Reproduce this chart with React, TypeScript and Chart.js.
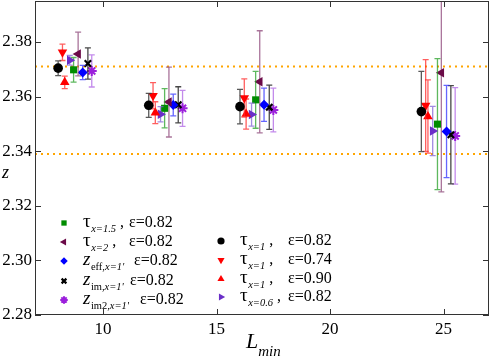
import React, { useEffect, useRef } from 'react';
import { Chart, registerables } from 'chart.js';
import { drawPoint } from 'chart.js/helpers';

Chart.register(...registerables);

const FONT = '"Liberation Serif", "Times New Roman", "DejaVu Serif", serif';

// ---- axes ----
const xMin = 7;
const xMax = 27;
const yMin = 2.28;
const yMax = 2.395;
const xTickValues = [10, 15, 20, 25];
const yTickValues = [2.28, 2.3, 2.32, 2.34, 2.36, 2.38];
const refLineValues = [2.371, 2.339];

// ---- series data (L_min positions, z values, error half-widths) ----
const tau1e082X = [8.02, 12.01, 16.03, 24.02];
const tau1e082Y = [2.3704, 2.3568, 2.3563, 2.3545];
const tau1e082Err = [0.0027, 0.0044, 0.0063, 0.0147];

const tau1e074X = [8.21, 12.2, 16.22, 24.21];
const tau1e074Y = [2.3762, 2.3603, 2.3595, 2.3567];
const tau1e074Err = [0.003, 0.0048, 0.007, 0.0168];

const tau1e090X = [8.31, 12.3, 16.3, 24.31];
const tau1e090Y = [2.3652, 2.3541, 2.3536, 2.3527];
const tau1e090Err = [0.0023, 0.004, 0.0055, 0.0134];

const tau06X = [8.53, 12.53, 16.54, 24.52];
const tau06Y = [2.3733, 2.3535, 2.3534, 2.3474];
const tau06Err = [0.0018, 0.0028, 0.0042, 0.009];

const tau15X = [8.7, 12.71, 16.72, 24.73];
const tau15Y = [2.3698, 2.3557, 2.3588, 2.3499];
const tau15Err = [0.0045, 0.0072, 0.0104, 0.024];

const tau2X = [8.9, 12.9, 16.9, 24.9];
const tau2Y = [2.3756, 2.358, 2.3654, 2.3687];
const tau2Err = [0.008, 0.0128, 0.0187, 0.0436];

const zeffX = [9.1, 13.09, 17.09, 25.13];
const zeffY = [2.3688, 2.3569, 2.357, 2.3472];
const zeffErr = [0.0026, 0.004, 0.0061, 0.0169];

const zimX = [9.33, 13.31, 17.32, 25.32];
const zimY = [2.3721, 2.357, 2.3561, 2.346];
const zimErr = [0.0057, 0.0066, 0.0081, 0.018];

const zim2X = [9.5, 13.5, 17.5, 25.51];
const zim2Y = [2.3694, 2.3557, 2.3551, 2.3456];
const zim2Err = [0.0059, 0.0066, 0.008, 0.0177];

type Sub = [string, boolean];
interface SeriesDef {
  xs: number[]; ys: number[]; errs: number[];
  style: string; rotation: number; radius: number; lwidth: number;
  color: string; errColor: string;
  main: string; mainItalic: boolean; subs: Sub[]; comma: boolean; eps: string;
  col: number; row: number;
}

const series: SeriesDef[] = [
  { xs: tau1e082X, ys: tau1e082Y, errs: tau1e082Err, style: 'circle', rotation: 0, radius: 4.8, lwidth: 0,
    color: '#000000', errColor: 'rgba(60,60,60,0.85)', main: 'τ', mainItalic: false, subs: [['x=1', true]], comma: true, eps: 'ε=0.82', col: 1, row: 0 },
  { xs: tau1e074X, ys: tau1e074Y, errs: tau1e074Err, style: 'triangle', rotation: 180, radius: 5.5, lwidth: 0,
    color: '#ff0000', errColor: 'rgba(255,40,40,0.75)', main: 'τ', mainItalic: false, subs: [['x=1', true]], comma: true, eps: 'ε=0.74', col: 1, row: 1 },
  { xs: tau1e090X, ys: tau1e090Y, errs: tau1e090Err, style: 'triangle', rotation: 0, radius: 5.5, lwidth: 0,
    color: '#ff0000', errColor: 'rgba(255,40,40,0.75)', main: 'τ', mainItalic: false, subs: [['x=1', true]], comma: true, eps: 'ε=0.90', col: 1, row: 2 },
  { xs: tau06X, ys: tau06Y, errs: tau06Err, style: 'triangle', rotation: 90, radius: 5.5, lwidth: 0,
    color: '#6a2fc8', errColor: 'rgba(130,100,215,0.75)', main: 'τ', mainItalic: false, subs: [['x=0.6', true]], comma: true, eps: 'ε=0.82', col: 1, row: 3 },
  { xs: tau15X, ys: tau15Y, errs: tau15Err, style: 'rect', rotation: 0, radius: 5, lwidth: 0,
    color: '#008c00', errColor: 'rgba(40,160,40,0.75)', main: 'τ', mainItalic: false, subs: [['x=1.5', true]], comma: true, eps: 'ε=0.82', col: 0, row: 0 },
  { xs: tau2X, ys: tau2Y, errs: tau2Err, style: 'triangle', rotation: -90, radius: 5.5, lwidth: 0,
    color: '#6b0a48', errColor: 'rgba(140,70,120,0.75)', main: 'τ', mainItalic: false, subs: [['x=2', true]], comma: true, eps: 'ε=0.82', col: 0, row: 1 },
  { xs: zeffX, ys: zeffY, errs: zeffErr, style: 'rectRot', rotation: 0, radius: 5, lwidth: 0,
    color: '#0000ff', errColor: 'rgba(50,50,255,0.75)', main: 'z', mainItalic: true, subs: [['eff,', false], ["x=1'", true]], comma: false, eps: 'ε=0.82', col: 0, row: 2 },
  { xs: zimX, ys: zimY, errs: zimErr, style: 'crossRot', rotation: 0, radius: 4.5, lwidth: 2.2,
    color: '#000000', errColor: 'rgba(40,40,40,0.85)', main: 'z', mainItalic: true, subs: [['im,', false], ["x=1'", true]], comma: false, eps: 'ε=0.82', col: 0, row: 3 },
  { xs: zim2X, ys: zim2Y, errs: zim2Err, style: 'star', rotation: 0, radius: 5, lwidth: 2,
    color: '#9b1fdc', errColor: 'rgba(180,110,230,0.8)', main: 'z', mainItalic: true, subs: [['im2,', false], ["x=1'", true]], comma: false, eps: 'ε=0.82', col: 0, row: 4 },
];

// legend layout
const legendMarkerX = [64, 221];
const legendTextX = [83, 240];
const legendRowsY = [[223, 242, 261, 281, 300], [241, 260, 279, 297]];
const legendEpsX = [[129, 129, 134, 130, 140], [288, 288, 288, 288]];

const errorBarPlugin = {
  id: 'errorBars',
  beforeDatasetDraw(chart: any, args: any) {
    const ds = chart.data.datasets[args.index];
    if (!ds.errs) return;
    const ctx = chart.ctx;
    const ys = chart.scales.y;
    const area = chart.chartArea;
    ctx.save();
    ctx.beginPath();
    ctx.rect(area.left, area.top, area.right - area.left, area.bottom - area.top);
    ctx.clip();
    ctx.strokeStyle = ds.errColor;
    ctx.lineWidth = 1.3;
    args.meta.data.forEach((el: any, i: number) => {
      const v = ds.data[i].y;
      const e = ds.errs[i];
      const top = ys.getPixelForValue(v + e);
      const bot = ys.getPixelForValue(v - e);
      const x = el.x;
      ctx.beginPath();
      ctx.moveTo(x, top);
      ctx.lineTo(x, bot);
      ctx.moveTo(x - 3, top);
      ctx.lineTo(x + 3, top);
      ctx.moveTo(x - 3, bot);
      ctx.lineTo(x + 3, bot);
      ctx.stroke();
    });
    ctx.restore();
  },
};

const framePlugin = {
  id: 'frame',
  afterDraw(chart: any) {
    const ctx = chart.ctx;
    const a = chart.chartArea;
    const xs = chart.scales.x;
    const ys = chart.scales.y;
    ctx.save();
    ctx.strokeStyle = '#333333';
    ctx.lineWidth = 1;
    ctx.strokeRect(a.left + 0.5, a.top + 0.5, a.right - a.left - 1, a.bottom - a.top - 1);
    const tl = 6;
    ctx.beginPath();
    xTickValues.forEach((v) => {
      const px = Math.round(xs.getPixelForValue(v)) + 0.5;
      ctx.moveTo(px, a.bottom);
      ctx.lineTo(px, a.bottom - tl);
      ctx.moveTo(px, a.top);
      ctx.lineTo(px, a.top + tl);
    });
    yTickValues.forEach((v) => {
      const py = Math.round(ys.getPixelForValue(v)) + 0.5;
      ctx.moveTo(a.left, py);
      ctx.lineTo(a.left + tl, py);
      ctx.moveTo(a.right, py);
      ctx.lineTo(a.right - tl, py);
    });
    ctx.stroke();

    // legend
    ctx.textAlign = 'left';
    ctx.textBaseline = 'alphabetic';
    series.forEach((s) => {
      const my = legendRowsY[s.col][s.row];
      const mx = legendMarkerX[s.col];
      ctx.fillStyle = s.color;
      ctx.strokeStyle = s.color;
      ctx.lineWidth = s.lwidth || 1;
      drawPoint(ctx, { pointStyle: s.style, rotation: s.rotation, radius: s.radius * 0.75, borderWidth: s.lwidth }, mx, my);
      ctx.fillStyle = '#000';
      let x = legendTextX[s.col];
      const base = my + 4;
      ctx.font = `${s.mainItalic ? 'italic ' : ''}19px ${FONT}`;
      ctx.fillText(s.main, x, base);
      x += ctx.measureText(s.main).width + 0.5;
      s.subs.forEach(([t, it]) => {
        ctx.font = `${it ? 'italic ' : ''}10.5px ${FONT}`;
        ctx.fillText(t, x, base + 5);
        x += ctx.measureText(t).width;
      });
      ctx.font = `16px ${FONT}`;
      if (s.comma) ctx.fillText(' ,', x, base);
      ctx.fillText(s.eps, legendEpsX[s.col][s.row], base);
    });

    // axis titles
    ctx.fillStyle = '#000';
    ctx.font = `italic 22px ${FONT}`;
    ctx.fillText('L', 246, 348);
    const lw = ctx.measureText('L').width;
    ctx.font = `italic 15px ${FONT}`;
    ctx.fillText('min', 246 + lw, 356);
    ctx.font = `italic 18px ${FONT}`;
    ctx.fillText('z', 2, 178);
    ctx.restore();
  },
};

const zeroPad = (s: any) => {
  s.paddingLeft = 0;
  s.paddingRight = 0;
  s.paddingTop = 0;
  s.paddingBottom = 0;
};

export default function App() {
  const ref = useRef<HTMLCanvasElement>(null);
  useEffect(() => {
    document.body.style.margin = '0';
    const datasets: any[] = series.map((s) => ({
      data: s.xs.map((x, i) => ({ x, y: s.ys[i] })),
      errs: s.errs,
      errColor: s.errColor,
      pointStyle: s.style,
      rotation: s.rotation,
      pointRadius: s.radius,
      backgroundColor: s.color,
      borderColor: s.color,
      borderWidth: s.lwidth,
      showLine: false,
      order: 1,
    }));
    refLineValues.forEach((v) => {
      datasets.push({
        data: [{ x: xMin, y: v }, { x: xMax, y: v }],
        showLine: true,
        pointRadius: 0,
        borderColor: '#ffa500',
        borderWidth: 2,
        borderDash: [2, 4],
        order: 10,
      });
    });
    const chart = new Chart(ref.current as HTMLCanvasElement, {
      type: 'scatter',
      data: { datasets },
      options: {
        animation: false,
        responsive: false,
        devicePixelRatio: 1,
        layout: { autoPadding: false, padding: { top: 1, right: 2, left: 0, bottom: 0 } },
        plugins: { legend: { display: false }, tooltip: { enabled: false } },
        scales: {
          x: {
            type: 'linear', min: xMin, max: xMax,
            grid: { display: false, drawTicks: false }, border: { display: false },
            ticks: { font: { family: FONT, size: 17 }, color: '#000', padding: 4, maxRotation: 0, autoSkip: false },
            afterBuildTicks: (s: any) => { s.ticks = xTickValues.map((v) => ({ value: v })); },
            afterFit: (s: any) => { s.height = 45; zeroPad(s); },
          },
          y: {
            type: 'linear', min: yMin, max: yMax,
            grid: { display: false, drawTicks: false }, border: { display: false },
            ticks: { font: { family: FONT, size: 17 }, color: '#000', padding: 3, autoSkip: false,
              callback: (v: any) => Number(v).toFixed(2) },
            afterBuildTicks: (s: any) => { s.ticks = yTickValues.map((v) => ({ value: v })); },
            afterFit: (s: any) => { s.width = 35; zeroPad(s); },
          },
        },
      } as any,
      plugins: [errorBarPlugin, framePlugin],
    });
    return () => chart.destroy();
  }, []);
  return <canvas ref={ref} width={491} height={360} style={{ display: 'block' }} />;
}
